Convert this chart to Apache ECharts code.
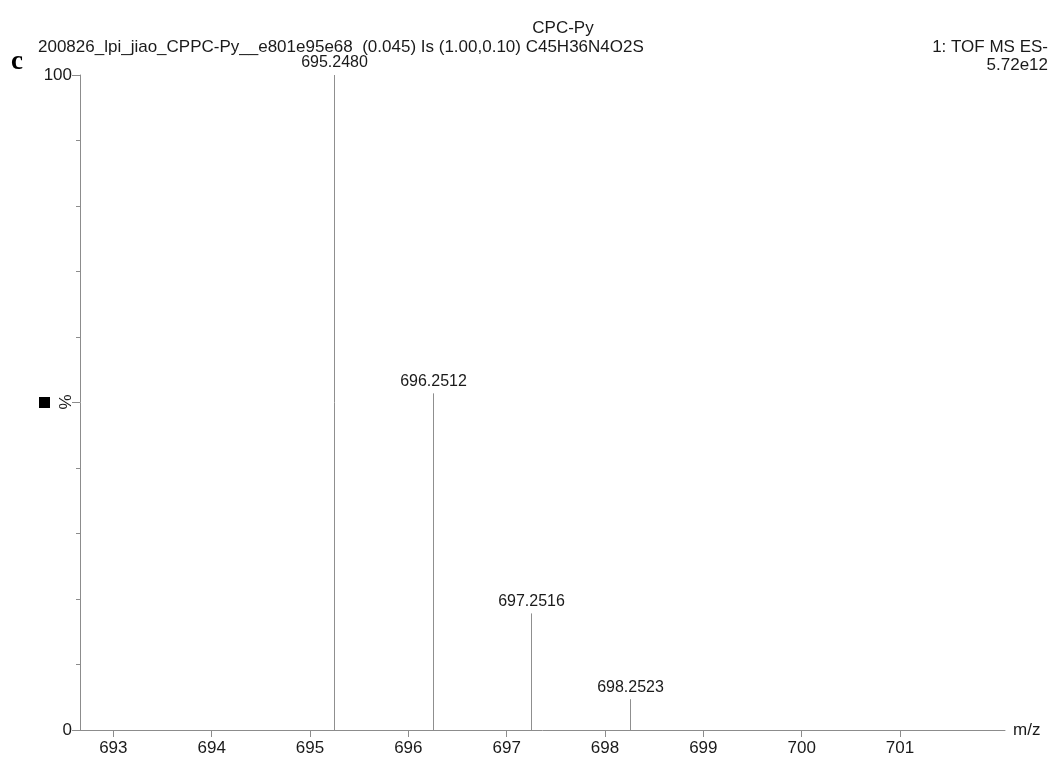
<!DOCTYPE html>
<html>
<head>
<meta charset="utf-8">
<title>CPC-Py</title>
<script src="https://cdn.jsdelivr.net/npm/echarts@6/dist/echarts.min.js"></script>
<style>
  html, body { margin: 0; padding: 0; background: #fff; }
  #chart { width: 1053px; height: 760px; }
</style>
</head>
<body>
<div id="chart"></div>
<script>
// Isotope peaks (centroid m/z and relative intensity, %)
const peakMz = [695.2480, 696.2512, 697.2516, 698.2523];
const peakIntensity = [100, 51.4, 17.8, 4.7];

// Axis tick positions
const mzTicks = [693, 694, 695, 696, 697, 698, 699, 700, 701];
const pctMajorTicks = [0, 50, 100];
const pctLabels = [0, 100];

const titleText = 'CPC-Py';
const headerText = '200826_lpi_jiao_CPPC-Py__e801e95e68  (0.045) Is (1.00,0.10) C45H36N4O2S';
const modeText = '1: TOF MS ES-';
const scaleText = '5.72e12';

const FONT = '"Liberation Sans", Arial, sans-serif';
const TEXT = '#1a1a1a';
const AXIS = '#8c8c8c';
const STICK = '#8f8f8f';

const chart = echarts.init(document.getElementById('chart'), null, { renderer: 'canvas' });

const peaks = peakMz.map((mz, i) => [mz, peakIntensity[i]]);

chart.setOption({
  backgroundColor: '#fff',
  animation: false,
  grid: { left: 80, right: 48, top: 75, bottom: 30, containLabel: false },
  xAxis: {
    type: 'value',
    min: 692.661,
    max: 702.068,
    name: 'm/z',
    nameLocation: 'end',
    nameGap: 8,
    nameTextStyle: { fontFamily: FONT, fontSize: 17, color: TEXT, verticalAlign: 'middle' },
    axisLine: { show: true, onZero: false, lineStyle: { color: AXIS, width: 1 } },
    axisTick: { show: true, length: 7, inside: false, customValues: mzTicks, lineStyle: { color: AXIS } },
    axisLabel: {
      show: true,
      customValues: mzTicks,
      margin: 10,
      fontFamily: FONT,
      fontSize: 17,
      color: TEXT,
      formatter: v => String(v)
    },
    splitLine: { show: false }
  },
  yAxis: {
    type: 'value',
    min: 0,
    max: 100,
    interval: 50,
    axisLine: { show: true, lineStyle: { color: AXIS, width: 1 } },
    axisTick: { show: true, length: 8, customValues: pctMajorTicks, lineStyle: { color: AXIS } },
    minorTick: { show: true, splitNumber: 5, length: 4, lineStyle: { color: AXIS } },
    axisLabel: {
      show: true,
      customValues: pctLabels,
      margin: 8,
      fontFamily: FONT,
      fontSize: 17,
      color: TEXT
    },
    splitLine: { show: false }
  },
  graphic: [
    { type: 'text', x: 563, y: 28, style: { text: titleText, font: '17px ' + FONT, fill: TEXT, textAlign: 'center', textVerticalAlign: 'middle' } },
    { type: 'text', x: 38, y: 47, style: { text: headerText, font: '17px ' + FONT, fill: TEXT, textAlign: 'left', textVerticalAlign: 'middle' } },
    { type: 'text', x: 1048, y: 47, style: { text: modeText, font: '17px ' + FONT, fill: TEXT, textAlign: 'right', textVerticalAlign: 'middle' } },
    { type: 'text', x: 1048, y: 65, style: { text: scaleText, font: '17px ' + FONT, fill: TEXT, textAlign: 'right', textVerticalAlign: 'middle' } },
    { type: 'text', x: 11, y: 62, style: { text: 'c', font: 'bold 27px "Liberation Serif", "Times New Roman", serif', fill: '#000', textAlign: 'left', textVerticalAlign: 'middle' } },
    // y-axis unit marker: filled square followed by a rotated percent sign
    { type: 'rect', shape: { x: 39, y: 397, width: 11, height: 11 }, style: { fill: '#000' } },
    { type: 'text', x: 66, y: 402, rotation: Math.PI / 2, style: { text: '%', font: '17px ' + FONT, fill: TEXT, textAlign: 'center', textVerticalAlign: 'middle' } }
  ],
  series: [{
    type: 'custom',
    coordinateSystem: 'cartesian2d',
    data: peaks,
    clip: false,
    renderItem: function (params, api) {
      const mz = api.value(0);
      const top = api.coord([mz, api.value(1)]);
      const base = api.coord([mz, 0]);
      const x = Math.round(top[0]) + 0.5;
      return {
        type: 'group',
        children: [
          {
            type: 'line',
            shape: { x1: x, y1: base[1], x2: x, y2: top[1] },
            style: { stroke: STICK, lineWidth: 1 }
          },
          {
            type: 'text',
            x: x,
            y: top[1] - 4,
            style: {
              text: mz.toFixed(4),
              font: '16px ' + FONT,
              fill: TEXT,
              textAlign: 'center',
              textVerticalAlign: 'bottom'
            }
          }
        ]
      };
    }
  }]
});
</script>
</body>
</html>
